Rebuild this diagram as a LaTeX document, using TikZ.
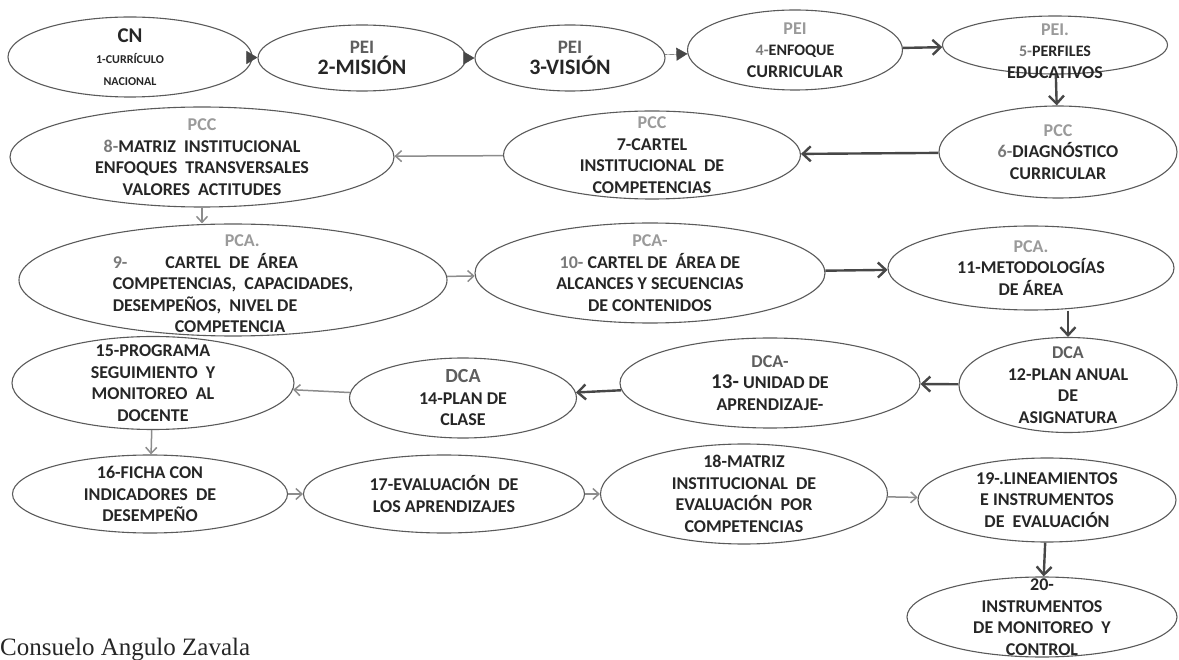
\documentclass[tikz,border=0pt]{standalone}
\usepackage{fontspec}
\setmainfont{Liberation Serif}
\setsansfont{Carlito}
\usetikzlibrary{shapes.geometric,arrows.meta}
\definecolor{elc}{HTML}{5A5A5A}
\definecolor{txc}{HTML}{262626}
\definecolor{hdc}{HTML}{9A9A9A}
\definecolor{hdd}{HTML}{5E5E5E}
\definecolor{numc}{HTML}{7A7A7A}
\definecolor{ard}{HTML}{474747}
\definecolor{arg}{HTML}{8C8C8C}
\tikzset{
  elli/.style={draw=elc,line width=1.1pt,ellipse,inner sep=0pt},
  lbl/.style={align=center,text=txc,inner sep=0pt,font=\sffamily\bfseries\fontsize{18}{21.5}\selectfont},
  darr/.style={draw=ard,line width=2.4pt,-{Straight Barb[length=8pt,width=15pt]}},
  garr/.style={draw=arg,line width=1.5pt,-{Straight Barb[length=6pt,width=11pt]}},
  tarr/.style={draw=ard,-{Triangle[length=11pt,width=13pt]}}
}
\newcommand{\hd}[1]{\textcolor{hdc}{#1}}
\newcommand{\hdk}[1]{\textcolor{hdd}{#1}}
\newcommand{\nm}[1]{\textcolor{numc}{#1}}
\newcommand{\fs}[2]{\fontsize{#1}{#2}\selectfont}
\begin{document}
\begin{tikzpicture}[x=1pt,y=-1pt]
  \useasboundingbox (0,0) rectangle (1179,660);
  %fila 1
  \node[elli,minimum width=244pt,minimum height=80pt] (e1) at (130,57) {};
  \node[lbl] (t1) at (e1) {\fs{21}{22}CN\\ \fs{12}{17}1-CURRÍCULO\\ \fs{12}{16}NACIONAL};
  \node[elli,minimum width=208pt,minimum height=66pt] (e2) at (362,58) {};
  \node[lbl] (t2) at (e2) {\fs{19}{23}\hdk{PEI}\\ \fs{22}{23}2-MISIÓN};
  \node[elli,minimum width=190pt,minimum height=66pt] (e3) at (570,58) {};
  \node[lbl] (t3) at (e3) {\fs{19}{23}\hdk{PEI}\\ \fs{22}{23}3-VISIÓN};
  \node[elli,minimum width=215pt,minimum height=80pt] (e4) at (795,50) {};
  \node[lbl] (t4) at (e4) {\fs{18}{21}\hd{PEI}\\ \fs{16}{19}\nm{4-}ENFOQUE\\ CURRICULAR};
  \node[elli,minimum width=225pt,minimum height=58pt] (e5) at (1055,45) {};
  \node[lbl] (t5) at ([yshift=-6pt]e5) {\fs{18}{21}\hd{PEI.}\\ \fs{16}{19}\nm{5-}PERFILES\\ EDUCATIVOS};
  %fila 2
  \node[elli,minimum width=238pt,minimum height=92pt] (e6) at (1058,152) {};
  \node[lbl] (t6) at (e6) {\hd{PCC}\\ \nm{6-}DIAGNÓSTICO\\ CURRICULAR};
  \node[elli,minimum width=297pt,minimum height=88pt] (e7) at (652,155) {};
  \node[lbl] (t7) at (e7) {\hd{PCC}\\ 7-CARTEL\\ INSTITUCIONAL\ \ DE\\ COMPETENCIAS};
  \node[elli,minimum width=384pt,minimum height=100pt] (e8) at (202,157) {};
  \node[lbl] (t8) at (e8) {\hd{PCC}\\ \nm{8-}MATRIZ\ \ INSTITUCIONAL\\ ENFOQUES\ \ TRANSVERSALES\\ VALORES\ \ ACTITUDES};
  %fila 3
  \node[elli,minimum width=428pt,minimum height=112pt] (e9) at (233,280) {};
  \node[lbl,align=left] (t9) at ([yshift=-4pt]e9) {\hspace*{112pt}\hd{PCA.}\\ \nm{9-}\hspace{38pt}CARTEL\ \ DE\ \ ÁREA\\ COMPETENCIAS,\ \ CAPACIDADES,\\ DESEMPEÑOS,\ \ NIVEL DE\\ \hspace*{62pt}COMPETENCIA};
  \node[elli,minimum width=350pt,minimum height=100pt] (e10) at (650,273) {};
  \node[lbl] (t10) at (e10) {\hd{PCA-}\\ \nm{10-} CARTEL\ DE\ \ ÁREA\ DE\\ ALCANCES\ Y SECUENCIAS\\ DE CONTENIDOS};
  \node[elli,minimum width=286pt,minimum height=84pt] (e11) at (1031,268) {};
  \node[lbl] (t11) at (e11) {\hd{PCA.}\\ 11-METODOLOGÍAS\\ DE ÁREA};
  %fila 4
  \node[elli,minimum width=218pt,minimum height=95pt] (e12) at (1068,385) {};
  \node[lbl] (t12) at (e12) {\hdk{DCA}\\ 12-PLAN ANUAL\\ DE\\ ASIGNATURA};
  \node[elli,minimum width=300pt,minimum height=90pt] (e13) at (770,383) {};
  \node[lbl] (t13) at (e13) {\hdk{DCA-}\\ \fs{21}{23}13-\fs{18}{23} UNIDAD DE\\ APRENDIZAJE-};
  \node[elli,minimum width=227pt,minimum height=80pt] (e14) at (463,398) {};
  \node[lbl] (t14) at (e14) {\fs{20}{22}\hdk{DCA}\\ \fs{18}{21.5}14-PLAN DE\\ CLASE};
  \node[elli,minimum width=282pt,minimum height=93pt] (e15) at (153,383) {};
  \node[lbl] (t15) at (e15) {15-PROGRAMA\\ SEGUIMIENTO\ \ Y\\ MONITOREO\ \ AL\\ DOCENTE};
  %fila 5
  \node[elli,minimum width=275pt,minimum height=78pt] (e16) at (150,494) {};
  \node[lbl] (t16) at (e16) {16-FICHA CON\\ INDICADORES\ \ DE\\ DESEMPEÑO};
  \node[elli,minimum width=281pt,minimum height=78pt] (e17) at (444,494) {};
  \node[lbl] (t17) at (e17) {17-EVALUACIÓN\ \ DE\\ LOS APRENDIZAJES};
  \node[elli,minimum width=287pt,minimum height=100pt] (e18) at (744,494) {};
  \node[lbl] (t18) at (e18) {18-MATRIZ\\ INSTITUCIONAL\ \ DE\\ EVALUACIÓN\ \ POR\\ COMPETENCIAS};
  \node[elli,minimum width=258pt,minimum height=84pt] (e19) at (1047,500) {};
  \node[lbl] (t19) at (e19) {19-.LINEAMIENTOS\\ E INSTRUMENTOS\\ DE\ \ EVALUACIÓN};
  \node[elli,minimum width=270pt,minimum height=80pt] (e20) at (1042,617) {};
  \node[lbl] (t20) at (e20) {20-\\ INSTRUMENTOS\\ DE MONITOREO\ \ Y\\ CONTROL};
  \node[anchor=base west,inner sep=0pt,text=black!85,font=\rmfamily\fs{25}{25}] (aut) at (0,655) {Consuelo Angulo Zavala};
  %flechas
  \draw[tarr] (e1) -- (e2);
  \draw[tarr] (e2) -- (e3);
  \draw[tarr] (e3) -- (e4);
  \draw[darr] (e4) -- (e5);
  \draw[darr] (e5) -- (e6);
  \draw[darr] (e6) -- (e7);
  \draw[garr] (e7) -- (e8);
  \draw[garr] (e8.south) -- (e8.south |- e9.north);
  \draw[garr] (e9) -- (e10);
  \draw[darr] (e10) -- (e11);
  \draw[darr] (e12.north |- e11.south) -- (e12.north);
  \draw[darr] (e12) -- (e13);
  \draw[darr] (e13) -- (e14);
  \draw[garr] (e14) -- (e15);
  \draw[garr] (e15) -- (e16);
  \draw[garr] (e16) -- (e17);
  \draw[garr] (e17) -- (e18);
  \draw[garr] (e18) -- (e19);
  \draw[darr] (e19) -- (e20);
\end{tikzpicture}
\end{document}
